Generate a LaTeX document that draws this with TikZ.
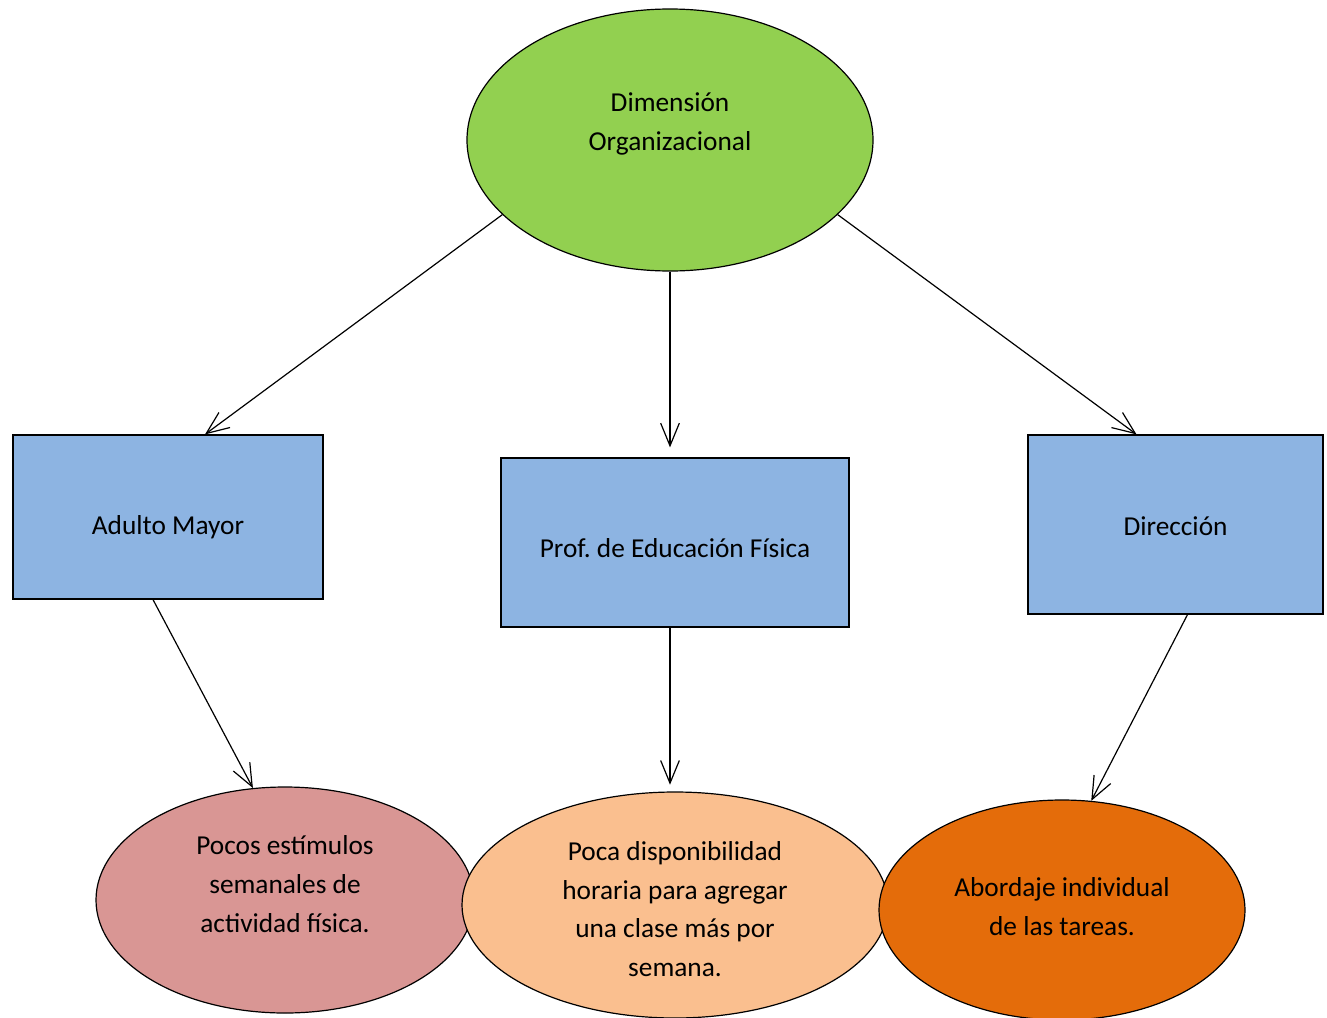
\documentclass[tikz,border=0pt]{standalone}
\usepackage{fontspec}
\setmainfont{Carlito}
\definecolor{RootColor}{RGB}{146,208,80}
\definecolor{BoxColor}{RGB}{141,180,226}
\definecolor{PinkColor}{RGB}{217,150,148}
\definecolor{PeachColor}{RGB}{250,191,143}
\definecolor{OrangeColor}{RGB}{228,108,10}
\usetikzlibrary{positioning, arrows.meta, shapes.geometric}
\tikzstyle{arrow} = [line width=0.9pt, black, -{Straight Barb[length=17pt,width=14pt,line width=0.9pt]}]
\tikzset{
  oval/.style={ellipse, draw=black, line width=0.9pt, inner sep=0pt},
  box/.style={rectangle, draw=black, line width=0.9pt, fill=BoxColor, inner sep=0pt},
  txt/.style={align=center, inner sep=0pt}
}
\begin{document}
\begin{tikzpicture}[x=0.75pt, y=-0.75pt, font=\fontsize{20.5}{29}\selectfont]
                \useasboundingbox (0,0) rectangle (1327,1017);

                % Root
                \node[oval, fill=RootColor, minimum width=304.5pt, minimum height=196.5pt,
                  label={[txt, yshift=12pt]center:Dimensión\\Organizacional}] (dim) at (670,140) {};

                % Boxes
                \node[box, minimum width=232.5pt, minimum height=123pt,
                  label={[txt, yshift=-8pt]center:Adulto Mayor}] (adulto) at (168,517) {};
                \node[box, minimum width=261pt, minimum height=126.75pt,
                  label={[txt, yshift=-4pt]center:Prof.\ de Educación Física}] (prof) at (675,542.5) {};
                \node[box, minimum width=221.25pt, minimum height=134.25pt,
                  label={[txt, yshift=-1pt]center:Dirección}] (direccion) at (1175.5,524.5) {};

                % Bottom ovals
                \node[oval, fill=PinkColor, minimum width=283.5pt, minimum height=169.5pt,
                  label={[txt, yshift=12pt]center:Pocos estímulos\\semanales de\\actividad física.}] (pocos) at (285,900) {};
                \node[oval, fill=PeachColor, minimum width=319.5pt, minimum height=169.5pt,
                  label={[txt, yshift=-3pt]center:Poca disponibilidad\\horaria para agregar\\una clase más por\\semana.}] (poca) at (675,905) {};
                \node[oval, fill=OrangeColor, minimum width=274.5pt, minimum height=165pt,
                  label={[txt, yshift=2.5pt]center:Abordaje individual\\de las tareas.}] (abordaje) at (1062,910) {};

                % Connectors
                \draw[arrow] (dim.204) -- ([xshift=27.75pt]adulto.north);
                \draw[arrow, shorten >=7.5pt] (dim.south) -- ([xshift=-3.75pt]prof.north);
                \draw[arrow] (dim.336) -- ([xshift=-29.25pt]direccion.north);
                \draw[arrow] ([xshift=-11.25pt]adulto.south) -- (pocos.106);
                \draw[arrow, shorten >=5pt] ([xshift=-3.75pt]prof.south) -- ([xshift=-3.75pt]poca.north);
                \draw[arrow] ([xshift=9pt]direccion.south) -- (abordaje.75);
\end{tikzpicture}
\end{document}
